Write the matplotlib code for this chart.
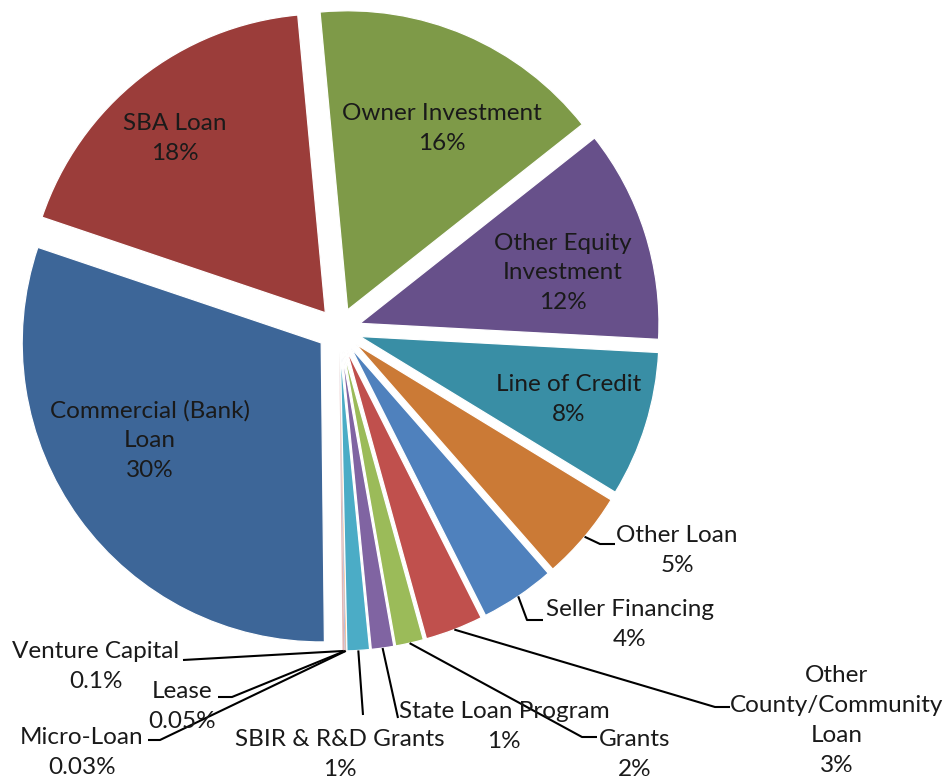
import math
import matplotlib.pyplot as plt

# slices in clockwise order, starting at the top
categories = ['Owner Investment', 'Other Equity\nInvestment', 'Line of Credit', 'Other Loan',
              'Seller Financing', 'Other\nCounty/Community\nLoan', 'Grants', 'State Loan Program',
              'SBIR & R&D Grants', 'Micro-Loan', 'Lease', 'Venture Capital',
              'Commercial (Bank)\nLoan', 'SBA Loan']
shares = [15.7, 11.4, 7.8, 4.8, 4.0, 3.1, 1.5, 1.2, 1.2, 0.03, 0.05, 0.1, 30.1, 18.2]
pct_labels = ['16%', '12%', '8%', '5%', '4%', '3%', '2%', '1%', '1%',
              '0.03%', '0.05%', '0.1%', '30%', '18%']
colors = ['#7E9A48', '#67508A', '#398EA5', '#CB7A36', '#4F81BD', '#C0504D', '#9BBB59',
          '#8064A2', '#4BACC6', '#F79646', '#A7B9DE', '#E2B6B5', '#3D6698', '#9B3D3A']

W, H = 953, 780
LINE_STEP = 30  # px between label lines


def Y(y):
    # layout below is measured in image pixels (y down)
    return H - y


# label layout: text centre, and leader path (None = label sits inside the slice)
label_pos = {
    'Owner Investment': ((442, 129), None),
    'Other Equity\nInvestment': ((563, 273), None),
    'Line of Credit': ((569, 400), None),
    'Other Loan': ((677, 551), [(600, 544), (615, 544)]),
    'Seller Financing': ((630, 625), [(527, 620), (543, 620)]),
    'Other\nCounty/Community\nLoan': ((837, 721), [(715, 707), (730, 707)]),
    'Grants': ((635, 754), [(582, 737), (597, 737)]),
    'State Loan Program': ((504, 727), [(398, 718)]),
    'SBIR & R&D Grants': ((340, 755), [(363, 715)]),
    'Micro-Loan': ((82, 752), [(160, 740), (148, 740)]),
    'Lease': ((182, 706), [(232, 697), (218, 697)]),
    'Venture Capital': ((96, 667), [(183, 660)]),
    'Commercial (Bank)\nLoan': ((150, 441), None),
    'SBA Loan': ((175, 138), None),
}

fig = plt.figure(figsize=(W / 100, H / 100), dpi=100)
ax = fig.add_axes([0, 0, 1, 1])

radius = 299
wedges, _ = ax.pie(shares, colors=colors, startangle=95.3, counterclock=False,
                   center=(339, Y(330)), radius=radius, explode=[22] * len(shares),
                   wedgeprops=dict(edgecolor='white', linewidth=0.9))
for w, v in zip(wedges, shares):
    if v < 0.5:
        w.set_linewidth(0)

ax.set_xlim(0, W)
ax.set_ylim(0, H)
ax.set_aspect('equal')
ax.axis('off')

font = dict(family=['Lato', 'DejaVu Sans'], fontsize=17.5, color='#1a1a1a')

for w, name, pct in zip(wedges, categories, pct_labels):
    (tx, ty), path = label_pos[name]
    lines = name.split('\n') + [pct]
    n = len(lines)
    # one text per line, so neighbouring labels don't share a big box
    for i, line in enumerate(lines):
        ly = ty + (i - (n - 1) / 2) * LINE_STEP
        ax.text(tx, Y(ly), line, ha='center', va='center', **font)
    if path:
        mid = math.radians((w.theta1 + w.theta2) / 2)
        cx, cy = w.center
        xs = [cx + w.r * math.cos(mid)] + [p[0] for p in path]
        ys = [cy + w.r * math.sin(mid)] + [Y(p[1]) for p in path]
        ax.plot(xs, ys, color='black', linewidth=1.5, solid_capstyle='butt')

fig.savefig('out.png', dpi=100)
